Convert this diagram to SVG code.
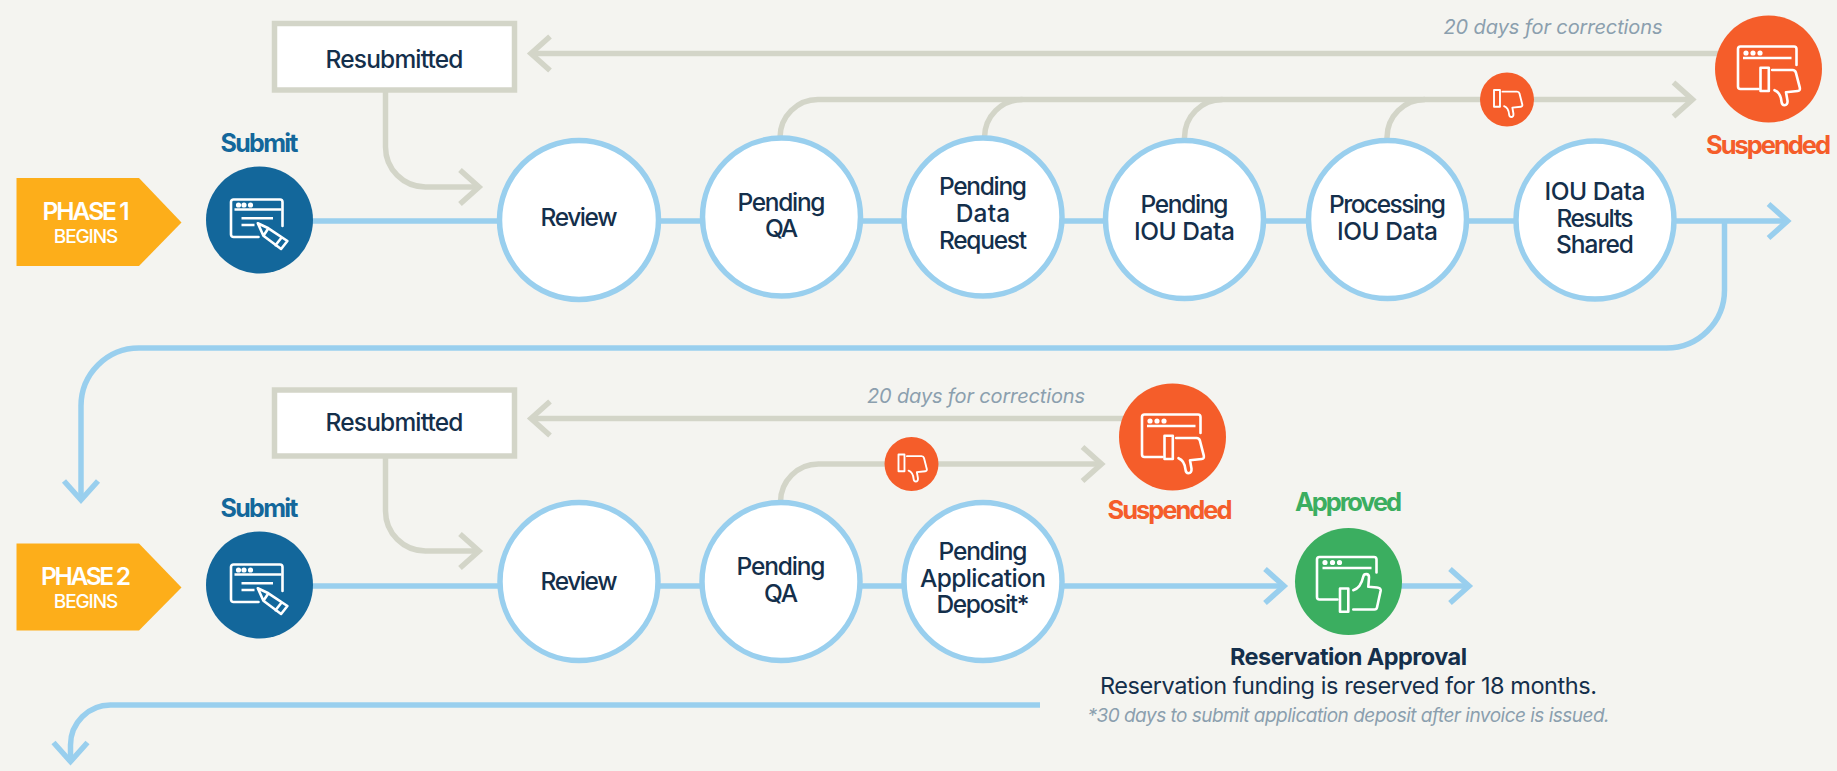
<svg xmlns="http://www.w3.org/2000/svg" width="1837" height="771" viewBox="0 0 1837 771">
<style>
text{font-family:"Inter","Liberation Sans",sans-serif;text-anchor:middle}
.c{fill:none;stroke-width:5.5}
.b{stroke:#99cfee}
.g{stroke:#d3d5c8}
.ah{fill:none;stroke-width:5.5;stroke-linejoin:miter;stroke-miterlimit:10}
.node{fill:#fff;stroke:#99cfee;stroke-width:5.5}
.box{fill:#fff;stroke:#d3d5c8;stroke-width:5.5}
.t{font-size:24.500px;font-weight:500;fill:#142f4b}
.ph{fill:#fdae1a}
.pt{font-size:24.500px;font-weight:600;fill:#fff}
.pb{font-size:19px;font-weight:500;fill:#fff}
.sb{font-size:25px;font-weight:700;fill:#13679b}
.su{font-size:25.500px;font-weight:700;fill:#f55d2a}
.ap{font-size:25.500px;font-weight:700;fill:#3bae60}
.nt{font-size:20px;font-style:italic;fill:#8b9fae}
.ic{fill:none;stroke:#fff;stroke-width:2.6;stroke-linejoin:round;stroke-linecap:round}
.il{fill:none;stroke:#fff;stroke-width:2.6;stroke-linecap:butt}
</style>
<defs>
<marker id="ab" markerUnits="userSpaceOnUse" markerWidth="60" markerHeight="60" refX="0" refY="0" orient="auto" overflow="visible"><path class="ah b" d="M-19-17L0 0L-19 17"/></marker>
<marker id="ag" markerUnits="userSpaceOnUse" markerWidth="60" markerHeight="60" refX="0" refY="0" orient="auto" overflow="visible"><path class="ah g" d="M-19-17L0 0L-19 17"/></marker>
<g id="pen"><path class="il" d="M-18-1.700H13.500M-18 5H-5"/><path class="ic" d="M-1.700 3.300L8.900 8.300L27.900 21L21.600 29L3.900 15.700ZM8.900 8.300L3.900 15.700M22.300 17.300L16 25.300"/></g>
<g id="winS"><path class="ic" d="M-1 17H-26a2.500 2.500 0 0 1-2.500-2.500V-18a2.500 2.500 0 0 1 2.500-2.500H20.500a2.500 2.500 0 0 1 2.500 2.500V6"/><circle class="ic" cx="-21" cy="-15" r="1.300"/><circle class="ic" cx="-15.500" cy="-15" r="1.300"/><circle class="ic" cx="-9" cy="-15" r="1.300"/><path class="il" d="M-25-10.500H22"/><use href="#pen"/></g>
<path id="td" class="ic" d="M11.700 2.300H32c2 0 3 1 3.400 2.600L39.300 20c.4 2-.4 3.200-2 3.300L25.500 24.500L27 33c.3 3-1 4.500-3 4.500s-2.800-1.500-3-3.500c-.5-5.500-3-10-7-11.500M0 0H8.300V23.300H0Z"/>
<path id="tu" class="ic" d="M13.300 1.700C19 0 22-6 23.300-12c.6-3 5.700-3.500 5.700.7L28.300-1.700L37-1c2.500.2 3.900 1.500 3.700 3L37 19c-.3 1.500-1 2-2.500 2H13.300M0 0H8.300V23.300H0Z"/>
<g id="winD"><path class="ic" d="M-10 20H-28a2.500 2.500 0 0 1-2.500-2.500V-20a2.500 2.500 0 0 1 2.500-2.500H25.500a2.500 2.500 0 0 1 2.500 2.500V-4"/><circle class="ic" cx="-22.500" cy="-16" r="1.300"/><circle class="ic" cx="-15.500" cy="-16" r="1.300"/><circle class="ic" cx="-8.500" cy="-16" r="1.300"/><path class="il" d="M-25.500-11H23"/><use href="#td" transform="translate(-8 -1.300)"/></g>
</defs>
<rect width="1837" height="771" fill="#f4f4f0"/>
<g id="connectors">
<path class="c g" marker-end="url(#ag)" d="M1720 53.500H531"/>
<path class="c g" marker-end="url(#ag)" d="M385.500 92V147a40 40 0 0 0 40 40H479"/>
<path class="c g" marker-end="url(#ag)" d="M780 138V137.500a38 38 0 0 1 38-38H1692.500"/>
<path class="c g" d="M984.500 138V137.500a38 38 0 0 1 38-38M1184.500 140V137.500a38 38 0 0 1 38-38M1387 140V137.500a38 38 0 0 1 38-38"/>
<path class="c b" marker-end="url(#ab)" d="M300 221H1787.500"/>
<path class="c b" marker-end="url(#ab)" d="M1724.500 221V290a58 58 0 0 1-58 58H139a58 58 0 0 0-58 58V500"/>
<path class="c g" marker-end="url(#ag)" d="M1125 418.500H531"/>
<path class="c g" marker-end="url(#ag)" d="M385.500 456V511a40 40 0 0 0 40 40H479"/>
<path class="c g" marker-end="url(#ag)" d="M780.500 502V502a38 38 0 0 1 38-38H1101.500"/>
<path class="c b" marker-end="url(#ab)" d="M300 586H1284"/>
<path class="c b" marker-end="url(#ab)" d="M1395 586H1469"/>
<path class="c b" marker-end="url(#ab)" d="M1040 705H110.500a40 40 0 0 0-40 40V761.500"/>
</g>
<g id="phase1"><path class="ph" d="M16.500 178H139L181.500 222.500L139 266H16.500Z"/><text class="pt" x="86" y="219.500" textLength="87">PHASE 1</text><text class="pb" x="86" y="243" textLength="64.500">BEGINS</text></g>
<g id="submit1"><text class="sb" x="259.500" y="151.500" textLength="78">Submit</text><circle cx="259.500" cy="220" r="53.500" fill="#13679b"/><use href="#winS" transform="translate(259.500 220)"/></g>
<g id="resub1"><rect class="box" x="274.500" y="23.500" width="240" height="66.500"/><text class="t" x="394.500" y="67.500" textLength="138">Resubmitted</text></g>
<g id="review1"><circle class="node" cx="579" cy="220" r="79.500"/><text class="t" x="579" y="226" textLength="77">Review</text></g>
<g id="qa1"><circle class="node" cx="781.500" cy="217" r="79"/><text class="t" x="781.500" y="210.500" textLength="88">Pending</text><text class="t" x="781.500" y="237" textLength="33">QA</text></g>
<g id="data1"><circle class="node" cx="983" cy="217" r="79"/><text class="t" x="983" y="195" textLength="88">Pending</text><text class="t" x="983" y="222" textLength="54.500">Data</text><text class="t" x="983" y="248.500" textLength="88">Request</text></g>
<g id="iou1"><circle class="node" cx="1184.500" cy="219.500" r="79"/><text class="t" x="1184.500" y="213" textLength="88">Pending</text><text class="t" x="1184.500" y="240" textLength="101">IOU Data</text></g>
<g id="proc1"><circle class="node" cx="1387.500" cy="219.500" r="79"/><text class="t" x="1387.500" y="213" textLength="117">Processing</text><text class="t" x="1387.500" y="240" textLength="101">IOU Data</text></g>
<g id="results1"><circle class="node" cx="1595" cy="220" r="79"/><text class="t" x="1595" y="200" textLength="101">IOU Data</text><text class="t" x="1595" y="226.500" textLength="77">Results</text><text class="t" x="1595" y="253" textLength="78">Shared</text></g>
<g id="down1"><circle cx="1507" cy="99.500" r="27" fill="#f55d2a"/><use href="#td" transform="translate(1494 90) scale(.72)"/></g>
<g id="susp1"><circle cx="1768.500" cy="69" r="53.500" fill="#f55d2a"/><use href="#winD" transform="translate(1768.500 69)"/><text class="su" x="1768.500" y="154" textLength="125">Suspended</text></g>
<text class="nt" x="1553" y="34" textLength="219">20 days for corrections</text>
<g id="phase2"><path class="ph" d="M16.500 543.500H139L181.500 587.500L139 630.500H16.500Z"/><text class="pt" x="86" y="585" textLength="90">PHASE 2</text><text class="pb" x="86" y="608" textLength="64.500">BEGINS</text></g>
<g id="submit2"><text class="sb" x="259.500" y="516.500" textLength="78">Submit</text><circle cx="259.500" cy="585" r="53.500" fill="#13679b"/><use href="#winS" transform="translate(259.500 585)"/></g>
<g id="resub2"><rect class="box" x="274.500" y="390" width="240" height="66"/><text class="t" x="394.500" y="431" textLength="138">Resubmitted</text></g>
<g id="review2"><circle class="node" cx="579" cy="581.500" r="79"/><text class="t" x="579" y="590" textLength="77">Review</text></g>
<g id="qa2"><circle class="node" cx="781" cy="581.500" r="79"/><text class="t" x="781" y="575" textLength="89">Pending</text><text class="t" x="781" y="602" textLength="34">QA</text></g>
<g id="dep2"><circle class="node" cx="983" cy="581.500" r="79"/><text class="t" x="983" y="560" textLength="89">Pending</text><text class="t" x="983" y="586.500" textLength="126">Application</text><text class="t" x="983" y="613" textLength="93">Deposit*</text></g>
<g id="down2"><circle cx="911.500" cy="464" r="27" fill="#f55d2a"/><use href="#td" transform="translate(898.500 454.500) scale(.72)"/></g>
<g id="susp2"><circle cx="1172.500" cy="437" r="53.500" fill="#f55d2a"/><use href="#winD" transform="translate(1172.500 437)"/><text class="su" x="1170" y="519" textLength="125">Suspended</text></g>
<text class="nt" x="976" y="403" textLength="218">20 days for corrections</text>
<g id="appr"><text class="ap" x="1348.500" y="510.500" textLength="107">Approved</text><circle cx="1348.500" cy="581.500" r="53.500" fill="#3bae60"/><g transform="translate(1348.500 581.500)"><path class="ic" d="M-11 18H-29a2.500 2.500 0 0 1-2.500-2.500V-22a2.500 2.500 0 0 1 2.500-2.500H25.500a2.500 2.500 0 0 1 2.500 2.500V-9"/><circle class="ic" cx="-23.500" cy="-19" r="1.300"/><circle class="ic" cx="-16" cy="-19" r="1.300"/><circle class="ic" cx="-9" cy="-19" r="1.300"/><path class="il" d="M-26-13.500H23"/><use href="#tu" transform="translate(-8.500 7)"/></g></g>
<g id="res"><text x="1348.500" y="665" font-size="23.500" font-weight="700" fill="#142f4b" textLength="237">Reservation Approval</text><text x="1348.500" y="694" font-size="23.500" fill="#142f4b" textLength="497">Reservation funding is reserved for 18 months.</text><text class="nt" x="1348.500" y="722" style="font-size:19px" textLength="522">*30 days to submit application deposit after invoice is issued.</text></g>
</svg>
